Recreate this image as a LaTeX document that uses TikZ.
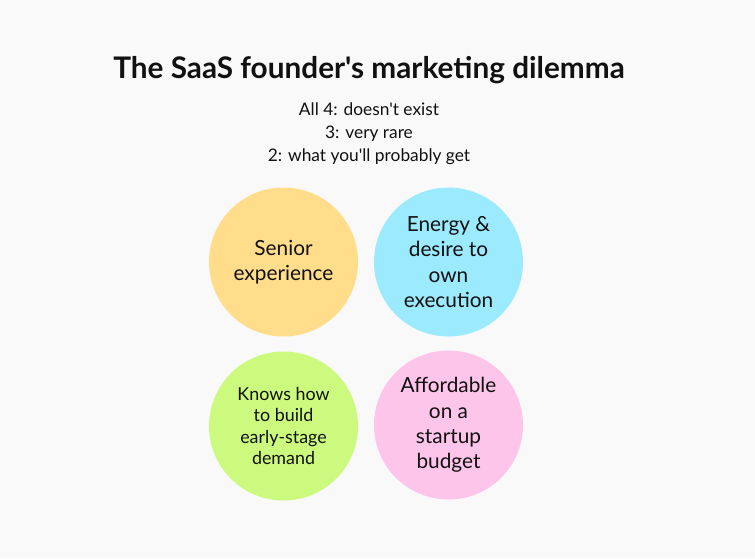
\documentclass[tikz,border=0pt]{standalone}
\usepackage{fontspec}
\newfontfamily\latofont{Lato}
\usepackage{tikz}
\usetikzlibrary{positioning}
\definecolor{Paper}    {HTML}{F9F9F9}
\definecolor{Ink}      {HTML}{111111}
\definecolor{Butter}   {HTML}{FFDD8B}
\definecolor{Sky}      {HTML}{9BEAFD}
\definecolor{Lime}     {HTML}{CCFA7E}
\definecolor{Blush}    {HTML}{FEC5EA}

\tikzset{
  trait/.style={circle, minimum size=149*0.75pt, inner sep=0pt,
                align=center, text=Ink, font=\latofont\fontsize{15.6}{18.9}\selectfont},
}

\begin{document}
\begin{tikzpicture}[x=0.75pt, y=-0.75pt]
  % canvas
  \fill[Paper] (0,0) rectangle (755,558);
  \useasboundingbox (0,0) rectangle (755,558);
  % Heading and key
  \node[font=\latofont\fontsize{22.3}{26}\selectfont\bfseries, text=Ink] (title) at (369,70)
        {The SaaS founder's marketing dilemma};
  \node[font=\latofont\fontsize{13}{17.3}\selectfont, text=Ink, align=center] (key) at (369,134)
        {All 4: doesn't exist\\3: very rare\\2: what you'll probably get};
  % The four traits
  \node[trait, fill=Butter] (senior) at (283.5,262) {Senior\\experience};
  \node[trait, fill=Sky] (energy) at (448.5,262) {Energy \&\\desire to\\own\\execution};
  \node[trait, fill=Lime, font=\latofont\fontsize{13.4}{15.8}\selectfont] (demand) at (283.5,426)
        {Knows how\\to build\\early-stage\\demand};
  \node[trait, fill=Blush] (budget) at (448.5,425) {Affordable\\on a\\startup\\budget};
\end{tikzpicture}
\end{document}
